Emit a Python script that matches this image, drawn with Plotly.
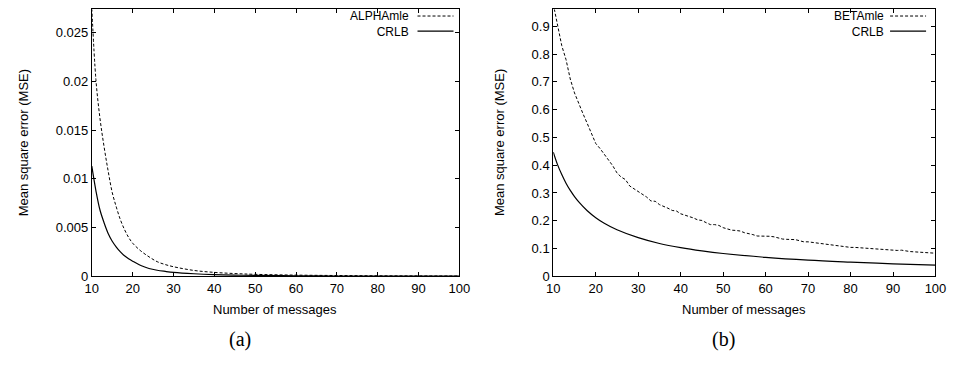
import plotly.graph_objects as go

# ---- data ----
n_a = [10, 11, 12, 13, 14, 15, 16, 17, 18, 19, 20, 22, 24, 26, 28, 30, 35, 40, 45, 50, 60, 70, 80, 90, 100]
alpha_mle = [0.0275, 0.0202, 0.0162, 0.0133, 0.0108, 0.0086, 0.0071, 0.0058, 0.0048, 0.0040, 0.0034,
             0.0026, 0.0020, 0.0015, 0.0012, 0.00098, 0.0006, 0.0004, 0.00028, 0.0002, 0.00012,
             0.00008, 0.00005, 0.00004, 0.00003]
crlb_a = [0.0113, 0.0088, 0.0068, 0.0055, 0.0044, 0.0036, 0.0030, 0.0025, 0.0021, 0.0018, 0.00155,
          0.0011, 0.0008, 0.00062, 0.0005, 0.0004, 0.00026, 0.00017, 0.00012, 0.00009, 0.00005,
          0.00003, 0.00002, 0.000015, 0.00001]

n_b = list(range(10, 101))
beta_mle = [0.98, 0.90, 0.83, 0.78, 0.71, 0.66, 0.62, 0.585, 0.55, 0.515, 0.478,
            0.46, 0.44, 0.418, 0.398, 0.372, 0.357, 0.348, 0.325, 0.315, 0.305,
            0.295, 0.285, 0.271, 0.27, 0.258, 0.252, 0.245, 0.237, 0.235, 0.225,
            0.22, 0.216, 0.21, 0.203, 0.201, 0.193, 0.186, 0.186, 0.183, 0.175,
            0.17, 0.166, 0.165, 0.163, 0.157, 0.154, 0.15, 0.145, 0.145, 0.145,
            0.144, 0.142, 0.137, 0.134, 0.133, 0.132, 0.132, 0.128, 0.124, 0.124,
            0.122, 0.12, 0.117, 0.116, 0.113, 0.111, 0.11, 0.108, 0.106, 0.104,
            0.104, 0.103, 0.102, 0.101, 0.099, 0.098, 0.097, 0.095, 0.094, 0.093,
            0.093, 0.094, 0.091, 0.089, 0.088, 0.087, 0.086, 0.086, 0.085, 0.083]
n_bc = [10, 11, 12, 13, 14, 15, 16, 18, 20, 22, 25, 30, 35, 40, 45, 50, 60, 70, 80, 90, 100]
crlb_b = [0.447, 0.402, 0.366, 0.335, 0.309, 0.287, 0.268, 0.236, 0.211, 0.191, 0.1675, 0.139,
          0.118, 0.103, 0.0914, 0.082, 0.068, 0.058, 0.051, 0.045, 0.0405]

x_ticks = [10, 20, 30, 40, 50, 60, 70, 80, 90, 100]
ya_ticks = [0, 0.005, 0.01, 0.015, 0.02, 0.025]
ya_text = ["0", "0.005", "0.01", "0.015", "0.02", "0.025"]
yb_ticks = [0, 0.1, 0.2, 0.3, 0.4, 0.5, 0.6, 0.7, 0.8, 0.9]
yb_text = ["0", "0.1", "0.2", "0.3", "0.4", "0.5", "0.6", "0.7", "0.8", "0.9"]
legend_a = ["ALPHAmle", "CRLB"]
legend_b = ["BETAmle", "CRLB"]

# The page body keeps its default 8px margin, so the figure is sized to fit
# the 964x368 window and all screen positions are offset by OFF.
OFF = 8
W, H = 964 - 2 * OFF, 368 - 2 * OFF
FONT = "Arial"
SERIF = "Liberation Serif"
DASH = "3px,2px"

def px_x(p):
    return (p - OFF) / W

def px_y(p):
    return 1 - (p - OFF) / H

fig = go.Figure()
fig.add_trace(go.Scatter(x=n_a, y=alpha_mle, mode="lines", line=dict(color="black", width=1, dash=DASH, shape="spline"),
                         xaxis="x", yaxis="y", showlegend=False))
fig.add_trace(go.Scatter(x=n_a, y=crlb_a, mode="lines", line=dict(color="black", width=1.2, shape="spline"),
                         xaxis="x", yaxis="y", showlegend=False))
fig.add_trace(go.Scatter(x=n_b, y=beta_mle, mode="lines", line=dict(color="black", width=1, dash=DASH),
                         xaxis="x2", yaxis="y2", showlegend=False))
fig.add_trace(go.Scatter(x=n_bc, y=crlb_b, mode="lines", line=dict(color="black", width=1.2, shape="spline"),
                         xaxis="x2", yaxis="y2", showlegend=False))

# screen rows: value 0 at y=282.3; top frame placed as high as the page allows
bot = 282.3
top = OFF + 0.5
ya_top = 0.025 + (32.3 - top) / 50 * 0.005     # 50 px per 0.005
yb_top = 0.9 + (25.7 - top) / 285              # 285 px per 1.0

ax_common = dict(showline=True, linecolor="black", linewidth=1, mirror="ticks", ticks="inside",
                 ticklen=4, tickcolor="black", showgrid=False, zeroline=False,
                 tickfont=dict(family=FONT, size=13, color="black"))

fig.update_layout(
    width=W, height=H, margin=dict(l=0, r=0, t=0, b=0),
    paper_bgcolor="white", plot_bgcolor="white",
    xaxis=dict(domain=[px_x(86.3), px_x(461)], range=[10, 100], tickvals=x_ticks, anchor="y", **ax_common),
    yaxis=dict(domain=[px_y(bot), px_y(top)], range=[0, ya_top], tickvals=ya_ticks, ticktext=ya_text,
               anchor="x", **ax_common),
    xaxis2=dict(domain=[px_x(556.7), px_x(946.3)], range=[10, 100], tickvals=x_ticks, anchor="y2", **ax_common),
    yaxis2=dict(domain=[px_y(bot), px_y(top)], range=[0, yb_top], tickvals=yb_ticks, ticktext=yb_text,
                anchor="x2", **ax_common),
)

ann = []
def text(x, y, s, size=13, angle=0, xanchor="center", family=FONT, pad=1, align="center"):
    ann.append(dict(x=px_x(x), y=px_y(y), xref="paper", yref="paper", text=s, showarrow=False,
                    xanchor=xanchor, yanchor="middle", textangle=angle, borderpad=pad, align=align,
                    font=dict(family=family, size=size, color="black")))

text(272.7, 316, "Number of messages")
text(751, 316, "Number of messages")
text(17, 145, "Mean square error (MSE)", angle=-90)
text(502, 145, "Mean square error (MSE)", angle=-90)
text(237, 347, "(a)", size=20, family=SERIF)
text(730, 347, "(b)", size=20, family=SERIF)

# legends (gnuplot style: labels right-aligned, left of the key samples)
LSIZE = 12
LGAP = 1.3 * LSIZE          # plotly line spacing
LMID = 23.0
R1, R2 = LMID - LGAP / 2, LMID + LGAP / 2
text(411, LMID, "<br>".join(legend_a), size=LSIZE, xanchor="right", pad=0, align="right")
text(895, LMID, "<br>".join(legend_b), size=LSIZE, xanchor="right", pad=0, align="right")
fig.update_layout(annotations=ann)

shapes = []
for (x0, x1, y, dash) in [(418.3, 455, R1, DASH), (418.3, 455, R2, None),
                          (900, 936.7, R1, DASH), (900, 936.7, R2, None)]:
    ln = dict(color="black", width=1.2 if dash is None else 1)
    if dash:
        ln["dash"] = dash
    shapes.append(dict(type="line", xref="paper", yref="paper", x0=px_x(x0), x1=px_x(x1),
                       y0=px_y(y), y1=px_y(y), line=ln))
fig.update_layout(shapes=shapes)

fig.write_html("out.html", config={"displayModeBar": False, "responsive": False})
